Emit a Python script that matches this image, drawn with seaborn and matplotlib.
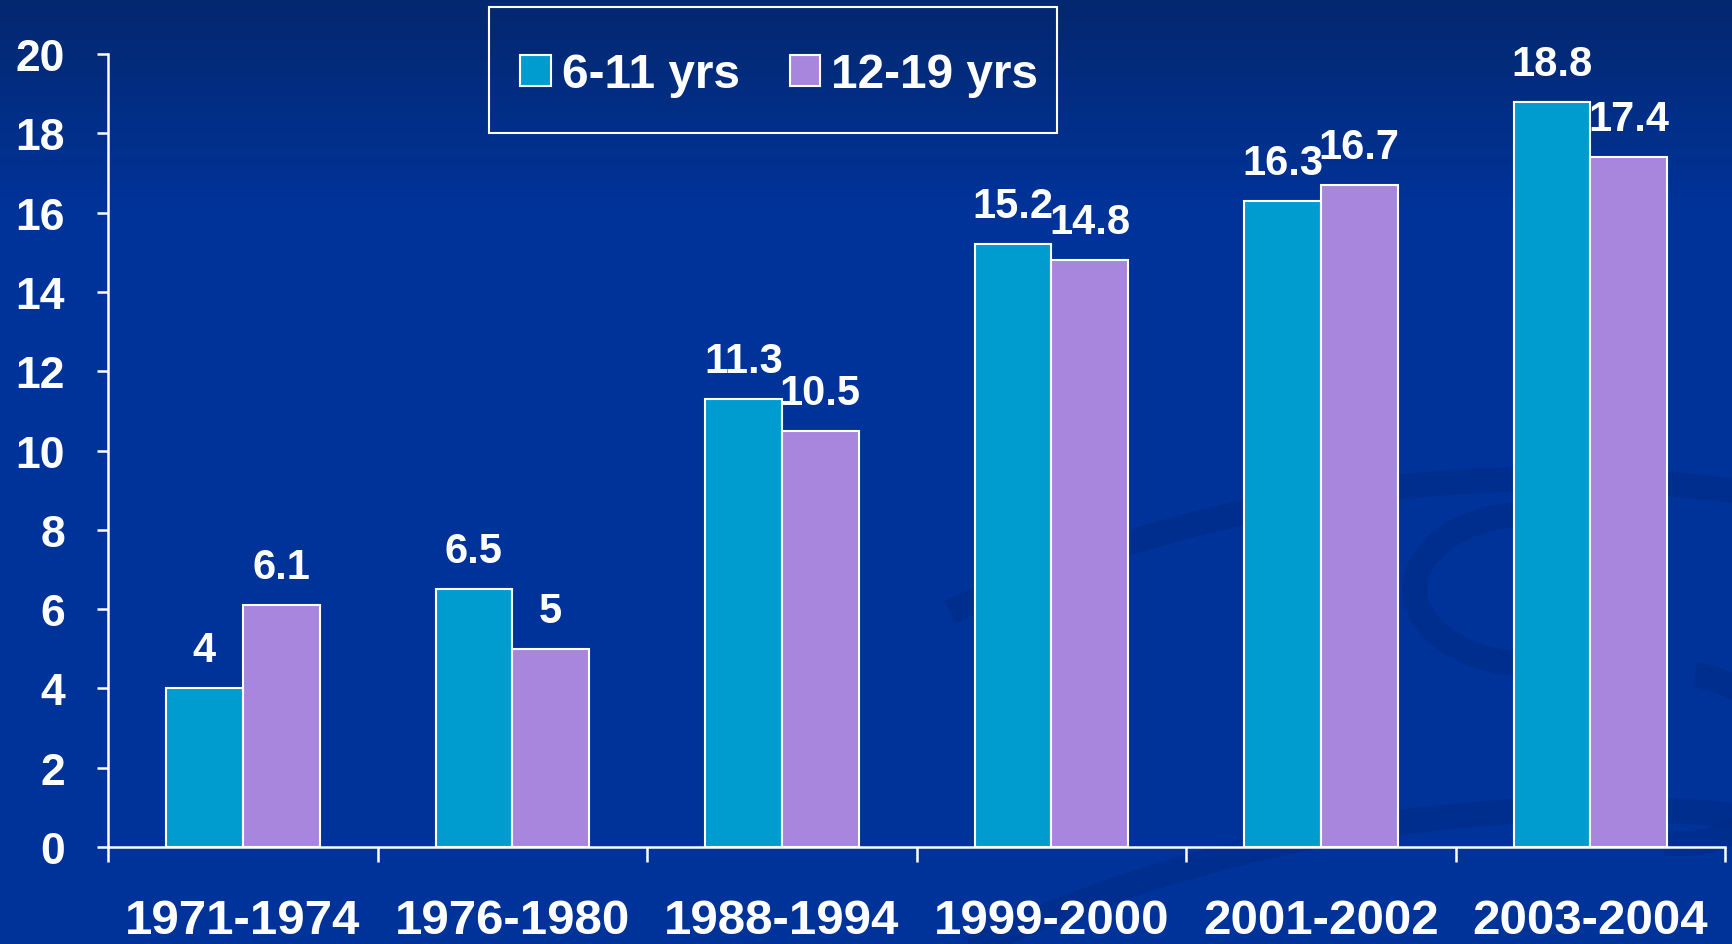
import matplotlib
matplotlib.use("Agg")
import matplotlib.pyplot as plt
import matplotlib.colors as mcolors
from matplotlib.patches import Arc, Rectangle
import numpy as np
import pandas as pd
import seaborn as sns

periods = ["1971-1974", "1976-1980", "1988-1994", "1999-2000", "2001-2002", "2003-2004"]
kids = [4, 6.5, 11.3, 15.2, 16.3, 18.8]
teens = [6.1, 5, 10.5, 14.8, 16.7, 17.4]
groups = ["6-11 yrs", "12-19 yrs"]
colors = ["#009CCF", "#A886DE"]

df = pd.DataFrame({
    "period": periods * 2,
    "value": kids + teens,
    "age": [groups[0]] * len(periods) + [groups[1]] * len(periods),
})

sns.set_style("white")
plt.rcParams["font.family"] = ["Liberation Sans", "DejaVu Sans"]
plt.rcParams["font.weight"] = "bold"

fig = plt.figure(figsize=(17.32, 9.45), dpi=100)

# slide background: gradient + faint swooshes (pixel coords, y down)
bg = fig.add_axes([0, 0, 1, 1], zorder=-10)
grad = np.linspace(0, 1, 256).reshape(-1, 1)
cmap = mcolors.LinearSegmentedColormap.from_list(
    "bg", [(0, "#04286F"), (0.22, "#003399"), (1, "#003399")])
bg.imshow(grad, aspect="auto", cmap=cmap, extent=[0, 1732, 945, 0])
swoosh = dict(color="#002A85", alpha=0.55, lw=18)
bg.add_patch(Arc((1550, 1900), 2840, 2840, theta1=245, theta2=285, **swoosh))
bg.add_patch(Arc((1600, 2300), 2980, 2980, theta1=245, theta2=290, **swoosh))
bg.add_patch(Arc((1530, 590), 230, 150, theta1=100, theta2=260, **swoosh))
bg.add_patch(Arc((1680, 760), 200, 170, theta1=-80, theta2=100, **swoosh))
bg.set_xlim(0, 1732)
bg.set_ylim(945, 0)
bg.set_axis_off()

ax = fig.add_axes([0.0624, 0.1026, 0.9336, 0.8392])
ax.set_facecolor("none")

sns.barplot(data=df, x="period", y="value", hue="age", palette=colors,
            width=0.57, saturation=1, edgecolor="white", linewidth=1.5, ax=ax)

for cont in ax.containers:
    ax.bar_label(cont, fmt="%g", padding=13, color="white", fontsize=30,
                 fontweight="bold")

ax.set_xlim(-0.5, len(periods) - 0.5)
ax.set_ylim(0, 20)
ax.set_yticks(range(0, 21, 2))
ax.set_xlabel("")
ax.set_ylabel("")

for s in ["top", "right"]:
    ax.spines[s].set_visible(False)
for s in ["left", "bottom"]:
    ax.spines[s].set_color("white")
    ax.spines[s].set_linewidth(1.8)

ax.tick_params(axis="y", colors="white", labelsize=32, length=8, width=1.8,
               pad=23, direction="out", left=True)
ax.tick_params(axis="x", colors="white", labelsize=35.5, length=0, pad=37)
ax.set_xticks(np.arange(-0.5, len(periods), 1), minor=True)
ax.tick_params(axis="x", which="minor", length=11, width=1.8, color="white",
               direction="out", bottom=True)
for lab in ax.get_xticklabels() + ax.get_yticklabels():
    lab.set_fontweight("bold")

leg = ax.legend(ncol=2, loc="center", bbox_to_anchor=(0.450, 0.920),
                bbox_transform=fig.transFigure, fontsize=34.4, frameon=False,
                handlelength=0.64, handleheight=0.64,
                handletextpad=0.23, columnspacing=1.04, borderpad=0.85)
for t in leg.get_texts():
    t.set_color("white")
    t.set_fontweight("bold")

# legend box drawn separately (wider than tall padding in the original)
fig.patches.append(Rectangle((489 / 1732, 1 - 134 / 945), 568 / 1732, 126 / 945,
                             transform=fig.transFigure, fill=False,
                             edgecolor="white", linewidth=1.5))

fig.savefig("out.png", dpi=100)
